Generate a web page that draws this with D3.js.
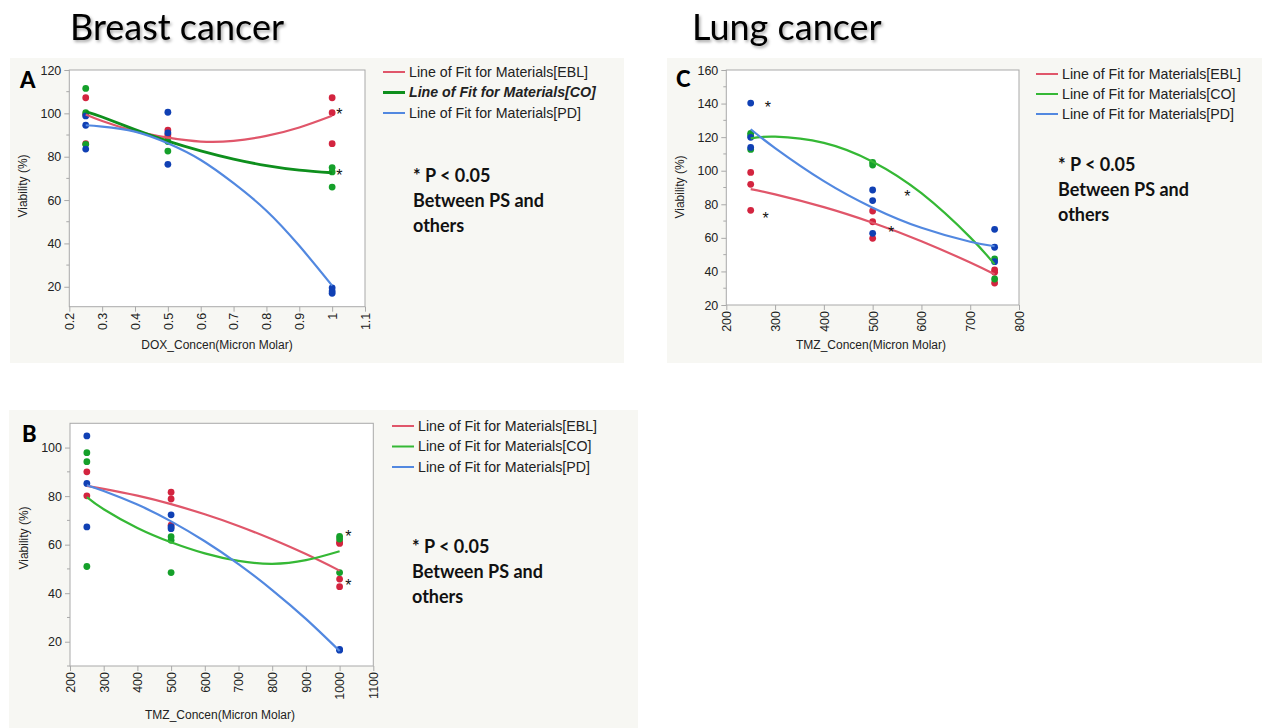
<!DOCTYPE html>
<html><head><meta charset="utf-8">
<script src="https://cdn.jsdelivr.net/npm/d3@7"></script>
<style>
html,body{margin:0;padding:0;background:#fff;}
svg{display:block;}
</style></head>
<body>
<svg id="chart" width="1262" height="728"></svg>
<script>
// ---------------- DATA ----------------
const titles = ["Breast cancer", "Lung cancer"];
const seriesNames = ["Line of Fit for Materials[EBL]", "Line of Fit for Materials[CO]", "Line of Fit for Materials[PD]"];
const noteLines = ["* P < 0.05", "Between PS and", "others"];

// Panel A (DOX, breast)
const A_xTicks = [0.2,0.3,0.4,0.5,0.6,0.7,0.8,0.9,1,1.1];
const A_yTicks = [20,40,60,80,100,120];
const A_EBL = [[0.25,107.2],[0.25,99.5],[0.25,86],[0.5,92.3],[0.5,90.2],[0.5,89],[1,107.2],[1,100.3],[1,86]];
const A_CO  = [[0.25,111.5],[0.25,100.3],[0.25,85.7],[0.5,82.6],[0.5,87],[1,75],[1,73],[1,66]];
const A_PD  = [[0.25,98.8],[0.25,94.5],[0.25,83.5],[0.5,100.5],[0.5,91],[0.5,76.5],[1,19.5],[1,18],[1,17]];
const A_fitX   = [0.25,0.3,0.4,0.5,0.6,0.7,0.8,0.9,1];
const A_fitEBL = [99.5,96.5,91.8,88.8,87.0,87.3,89.6,93.5,98.9];
const A_fitCO  = [100.8,98.3,92.5,87.2,82.7,78.9,75.9,73.8,72.6];
const A_fitPD  = [94.5,93.9,91.6,86.2,78.5,67.8,55.1,38.9,20.5];
const A_stars  = [[1.022,100.8],[1.022,72.8]];

// Panel B (TMZ, breast)
const B_xTicks = [200,300,400,500,600,700,800,900,1000,1100];
const B_yTicks = [20,40,60,80,100];
const B_EBL = [[250,90],[250,80.1],[500,81.6],[500,78.8],[500,68],[1000,61],[1000,60.5],[1000,45.8],[1000,42.7]];
const B_CO  = [[250,97.9],[250,94.2],[250,51],[500,63.3],[500,61.8],[500,48.5],[1000,63.4],[1000,62.3],[1000,48.5]];
const B_PD  = [[250,104.8],[250,85.2],[250,67.3],[500,72.3],[500,67.3],[500,66.6],[1000,16.8],[1000,16.5]];
const B_fitX   = [250,300,400,500,600,700,800,900,1000];
const B_fitEBL = [84.2,83.0,80.2,76.7,72.5,67.7,62.2,56.1,49.3];
const B_fitCO  = [79.6,74.6,66.9,61.0,56.4,53.3,52.1,53.6,57.3];
const B_fitPD  = [84.5,82.1,76.5,69.6,61.4,52.0,41.3,29.4,16.2];
const B_stars  = [[1026,64.5],[1026,44.6]];

// Panel C (TMZ, lung)
const C_xTicks = [200,300,400,500,600,700,800];
const C_yTicks = [20,40,60,80,100,120,140,160];
const C_EBL = [[250,99],[250,91.9],[250,76.4],[500,76],[500,69.6],[500,59.7],[750,40.9],[750,39.5],[750,33.1]];
const C_CO  = [[250,122.3],[250,121],[250,112.7],[500,105],[500,103.4],[750,47.4],[750,35.5]];
const C_PD  = [[250,140.3],[250,119.9],[250,113.9],[500,88.5],[500,82.2],[500,62.7],[750,65.1],[750,54.4],[750,45.8]];
const C_fitX   = [250,300,400,500,600,700,750];
const C_fitEBL = [89,85.9,78.3,69,58,45.3,38.3];
const C_fitCO  = [119.3,120.3,116.6,105.4,86.6,60.3,44.2];
const C_fitPD  = [124.7,113.5,93.8,78,66,57.7,55];
const C_stars  = [[285.4,139.2],[280.6,73.6],[571,86.5],[538,64.7]];

// ---------------- STYLE ----------------
const dotColors  = ["#d3243f", "#15a02a", "#1040b4"];
const lineColors = ["#e0566a", "#35b835", "#5288e0"];
const lineColorCOA = "#0e8f1d";
const bgColor = "#f7f7f3";
const frameColor = "#a9a9a9";
const axisFont = "'Liberation Sans', Arial, sans-serif";
const headFont = "Lato, 'Open Sans', sans-serif";

const svg = d3.select("#chart");
const defs = svg.append("defs");
const f = defs.append("filter").attr("id","shadow").attr("x","-10%").attr("y","-30%").attr("width","130%").attr("height","180%");
f.append("feDropShadow").attr("dx",1.5).attr("dy",2).attr("stdDeviation",1.6).attr("flood-color","#000").attr("flood-opacity",0.35);

// titles
svg.append("text").attr("x",70).attr("y",40).text(titles[0])
  .attr("font-family",headFont).attr("font-size",36).attr("fill","#000").attr("filter","url(#shadow)");
svg.append("text").attr("x",692).attr("y",40).text(titles[1])
  .attr("font-family",headFont).attr("font-size",36).attr("fill","#000").attr("filter","url(#shadow)");

function panel(cfg){
  const g = svg.append("g");
  g.append("rect").attr("x",cfg.bg[0]).attr("y",cfg.bg[1]).attr("width",cfg.bg[2]).attr("height",cfg.bg[3]).attr("fill",bgColor);
  const x = d3.scaleLinear().domain(cfg.xDomain).range([cfg.plot.l, cfg.plot.r]);
  const y = d3.scaleLinear().domain(cfg.yDomain).range([cfg.plot.b, cfg.plot.t]);
  g.append("rect").attr("x",cfg.plot.l).attr("y",cfg.plot.t).attr("width",cfg.plot.r-cfg.plot.l).attr("height",cfg.plot.b-cfg.plot.t)
    .attr("fill","#fff").attr("stroke",frameColor).attr("stroke-width",1);

  // y axis
  const ya = g.append("g").attr("transform",`translate(${cfg.plot.l},0)`)
    .call(d3.axisLeft(y).tickValues(cfg.yTicks).tickSize(5).tickPadding(3).tickFormat(d3.format("d")));
  ya.select(".domain").remove();
  ya.selectAll(".tick line").attr("stroke",frameColor);
  ya.selectAll(".tick text").attr("font-family",axisFont).attr("font-size",12.5).attr("fill","#222");
  // minor y ticks
  const minors = [];
  for(let i=0;i<cfg.yTicks.length-1;i++) minors.push((cfg.yTicks[i]+cfg.yTicks[i+1])/2);
  if (cfg.yTicks[0]-10 >= cfg.yDomain[0]) minors.push(cfg.yTicks[0]-10);
  g.selectAll(null).data(minors).join("line")
    .attr("x1",cfg.plot.l-3).attr("x2",cfg.plot.l).attr("y1",d=>y(d)).attr("y2",d=>y(d)).attr("stroke",frameColor);

  // x axis
  const xa = g.append("g").attr("transform",`translate(0,${cfg.plot.b})`)
    .call(d3.axisBottom(x).tickValues(cfg.xTicks).tickSize(5).tickFormat(cfg.xFmt));
  xa.select(".domain").remove();
  xa.selectAll(".tick line").attr("stroke",frameColor);
  xa.selectAll(".tick text").attr("font-family",axisFont).attr("font-size",12.5).attr("fill","#222")
    .attr("transform","rotate(-90)").attr("text-anchor","end").attr("dy","0.35em").attr("x",-6).attr("y",0);

  // axis titles
  g.append("text").attr("transform",`translate(${cfg.yLab[0]},${cfg.yLab[1]}) rotate(-90)`).attr("text-anchor","middle")
    .attr("font-family",axisFont).attr("font-size",12).attr("fill","#222").text("Viability (%)");
  g.append("text").attr("x",cfg.xLab[0]).attr("y",cfg.xLab[1]).attr("text-anchor","middle")
    .attr("font-family",axisFont).attr("font-size",12).attr("fill","#222").text(cfg.xTitle);

  // points
  cfg.points.forEach((pts,i)=>{
    g.selectAll(null).data(pts).join("circle")
      .attr("cx",d=>x(d[0])).attr("cy",d=>y(d[1])).attr("r",3.4).attr("fill",dotColors[i]);
  });
  // fit lines
  const line = d3.line().x(d=>x(d[0])).y(d=>y(d[1])).curve(d3.curveNatural);
  cfg.fits.forEach((vals,i)=>{
    const data = cfg.fitX.map((xv,j)=>[xv, vals[j]]);
    const hl = cfg.highlight === i;
    g.append("path").datum(data).attr("d",line).attr("fill","none")
      .attr("stroke", hl ? lineColorCOA : lineColors[i]).attr("stroke-width", hl ? 2.8 : 2.2);
  });
  // stars
  g.selectAll(null).data(cfg.stars).join("text")
    .attr("x",d=>x(d[0])).attr("y",d=>y(d[1])+8.5).attr("text-anchor","middle")
    .attr("font-family",axisFont).attr("font-size",16).attr("fill","#111").text("*");

  // panel letter
  g.append("text").attr("x",cfg.letter[0]).attr("y",cfg.letter[1]).text(cfg.letterText)
    .attr("font-family",headFont).attr("font-weight",900).attr("font-size",22).attr("fill","#000");

  // legend
  const lg = g.append("g");
  seriesNames.forEach((name,i)=>{
    const yy = cfg.legend[1] + i*cfg.legendStep;
    const hl = cfg.highlight === i;
    lg.append("line").attr("x1",cfg.legend[0]).attr("x2",cfg.legend[0]+22).attr("y1",yy).attr("y2",yy)
      .attr("stroke", hl ? lineColorCOA : lineColors[i]).attr("stroke-width", hl ? 3 : 2);
    lg.append("text").attr("x",cfg.legend[0]+26).attr("y",yy).attr("dy","0.35em")
      .attr("font-family",axisFont).attr("font-size",14.2).attr("fill","#222")
      .attr("font-weight", hl ? 700 : 400).attr("font-style", hl ? "italic" : "normal").text(name);
  });
  // note
  noteLines.forEach((t,i)=>{
    g.append("text").attr("x",cfg.note[0]).attr("y",cfg.note[1]+i*25).attr("dy","0.35em")
      .attr("font-family",headFont).attr("font-weight",700).attr("font-size",18).attr("fill","#111").text(t);
  });
}

const fmtA = d=> d===1 ? "1" : d3.format(".1f")(d);
panel({
  bg:[10,58,614,305], plot:{l:69.3,r:365,t:70,b:306.7},
  xDomain:[0.2,1.1], yDomain:[10.8,120], xTicks:A_xTicks, yTicks:A_yTicks, xFmt:fmtA,
  xTitle:"DOX_Concen(Micron Molar)", yLab:[27,186], xLab:[217,349],
  points:[A_EBL,A_CO,A_PD], fitX:A_fitX, fits:[A_fitEBL,A_fitCO,A_fitPD], highlight:1, stars:A_stars,
  letter:[20,88], letterText:"A", legend:[383,72], legendStep:20.5, note:[413,176]
});
panel({
  bg:[9,410,629,318], plot:{l:70,r:373.3,t:423.3,b:666},
  xDomain:[200,1100], yDomain:[10,110], xTicks:B_xTicks, yTicks:B_yTicks, xFmt:d3.format("d"),
  xTitle:"TMZ_Concen(Micron Molar)", yLab:[28,538], xLab:[220,719],
  points:[B_EBL,B_CO,B_PD], fitX:B_fitX, fits:[B_fitEBL,B_fitCO,B_fitPD], highlight:-1, stars:B_stars,
  letter:[22,442], letterText:"B", legend:[392,426], legendStep:20.5, note:[412,547]
});
panel({
  bg:[667,58,595,305], plot:{l:726.3,r:1019,t:70,b:305},
  xDomain:[200,800], yDomain:[20,160], xTicks:C_xTicks, yTicks:C_yTicks, xFmt:d3.format("d"),
  xTitle:"TMZ_Concen(Micron Molar)", yLab:[684,187], xLab:[871,349],
  points:[C_EBL,C_CO,C_PD], fitX:C_fitX, fits:[C_fitEBL,C_fitCO,C_fitPD], highlight:-1, stars:C_stars,
  letter:[676,87], letterText:"C", legend:[1036,74], legendStep:20, note:[1058,165]
});
</script>
</body></html>
